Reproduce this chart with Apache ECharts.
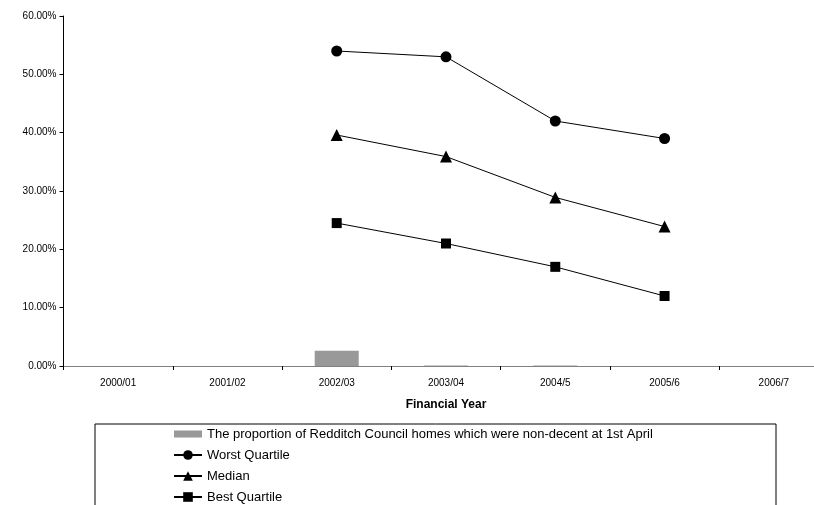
<!DOCTYPE html>
<html><head><meta charset="utf-8">
<script src="https://cdn.jsdelivr.net/npm/echarts@6/dist/echarts.min.js"></script>
<style>html,body{margin:0;padding:0;background:#fff;overflow:hidden;width:814px;height:505px}#c{width:829px;height:505px}</style>
</head><body><div id="c"></div>
<script>
const categories = ['2000/01','2001/02','2002/03','2003/04','2004/5','2005/6','2006/7'];
const redditchValues = [null, null, 2.6, 0.1, 0.1, null, null];
const worstQuartile = [null, null, 54.0, 53.0, 42.0, 39.0, null];
const medianValues = [null, null, 39.6, 35.9, 28.9, 23.9, null];
const bestQuartile = [null, null, 24.5, 21.0, 17.0, 12.0, null];
const seriesNames = ['The proportion of Redditch Council homes which were non-decent at 1st April','Worst Quartile','Median','Best Quartile'];

const chart = echarts.init(document.getElementById('c'));
const font = 'Liberation Sans, Arial, sans-serif';
const lineSeries = (name, data, symbol, size) => ({
  name, type: 'line', data, symbol, symbolSize: size,
  lineStyle: { color: '#000', width: 1 },
  itemStyle: { color: '#000' },
  connectNulls: false, animation: false
});
chart.setOption({
  animation: false,
  textStyle: { fontFamily: font },
  grid: { left: 63.5, top: 16, height: 350, width: 765, containLabel: false },
  xAxis: {
    type: 'category', data: categories, boundaryGap: true,
    axisLine: { lineStyle: { color: '#808080', width: 1 } },
    axisTick: { show: true, length: 4, lineStyle: { color: '#000' } },
    axisLabel: { color: '#000', fontSize: 10, margin: 12, fontFamily: font },
    name: 'Financial Year', nameLocation: 'middle', nameGap: 33,
    nameTextStyle: { color: '#000', fontSize: 12, fontWeight: 'bold', fontFamily: font }
  },
  yAxis: {
    type: 'value', min: 0, max: 60, interval: 10,
    axisLine: { show: true, lineStyle: { color: '#000', width: 1 } },
    axisTick: { show: true, length: 4, lineStyle: { color: '#000' } },
    splitLine: { show: false },
    axisLabel: { color: '#000', fontSize: 10, margin: 7, fontFamily: font,
      formatter: v => v.toFixed(2) + '%' }
  },
  legend: {
    orient: 'vertical', left: 173, top: 426.5, padding: 0,
    itemWidth: 28, itemHeight: 12, itemGap: 6,
    textStyle: { color: '#000', fontSize: 13, fontFamily: font, lineHeight: 15 },
    data: [
      { name: seriesNames[0], icon: 'path://M0,0 L28,0 L28,7 L0,7 Z' },
      seriesNames[1], seriesNames[2], seriesNames[3]
    ]
  },
  graphic: [{
    type: 'rect', left: 94.5, top: 423.5, z: -1,
    shape: { width: 681, height: 100 },
    style: { fill: '#fff', stroke: '#000', lineWidth: 1 }
  }],
  series: [
    { name: seriesNames[0], type: 'bar', data: redditchValues, barWidth: 44,
      itemStyle: { color: '#999999' } },
    lineSeries(seriesNames[1], worstQuartile, 'circle', 11),
    lineSeries(seriesNames[2], medianValues, 'triangle', 12),
    lineSeries(seriesNames[3], bestQuartile, 'rect', 10)
  ]
});
</script></body></html>
